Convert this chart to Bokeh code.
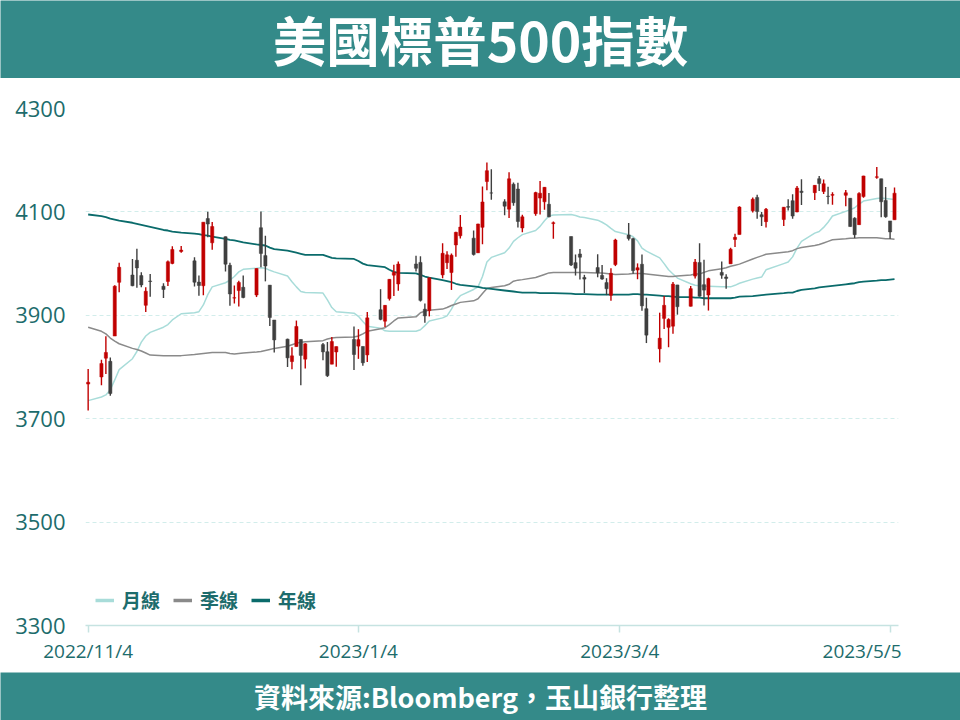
import pandas as pd
from bokeh.plotting import figure
from bokeh.models import ColumnDataSource, FixedTicker, Legend, LegendItem, Range1d
from bokeh.layouts import column
from bokeh.embed import file_html
from bokeh.resources import INLINE
from bokeh.core.properties import value

# ---------------- data ----------------
title_text = "美國標普500指數"
source_text = "資料來源:Bloomberg，玉山銀行整理"
series_names = ["月線", "季線", "年線"]

dates = [
    "2022-11-04", "2022-11-07", "2022-11-08", "2022-11-09", "2022-11-10", "2022-11-11", "2022-11-14", "2022-11-15",
    "2022-11-16", "2022-11-17", "2022-11-18", "2022-11-21", "2022-11-22", "2022-11-23", "2022-11-25", "2022-11-28",
    "2022-11-29", "2022-11-30",
    "2022-12-01", "2022-12-02", "2022-12-05", "2022-12-06", "2022-12-07", "2022-12-08", "2022-12-09", "2022-12-12",
    "2022-12-13", "2022-12-14", "2022-12-15", "2022-12-16", "2022-12-19", "2022-12-20", "2022-12-21", "2022-12-22",
    "2022-12-23", "2022-12-27", "2022-12-28", "2022-12-29", "2022-12-30",
    "2023-01-03", "2023-01-04", "2023-01-05", "2023-01-06", "2023-01-09", "2023-01-10", "2023-01-11", "2023-01-12",
    "2023-01-13", "2023-01-17", "2023-01-18", "2023-01-19", "2023-01-20", "2023-01-23", "2023-01-24", "2023-01-25",
    "2023-01-26", "2023-01-27", "2023-01-30", "2023-01-31",
    "2023-02-01", "2023-02-02", "2023-02-03", "2023-02-06", "2023-02-07", "2023-02-08", "2023-02-09", "2023-02-10",
    "2023-02-13", "2023-02-14", "2023-02-15", "2023-02-16", "2023-02-17", "2023-02-21", "2023-02-22", "2023-02-23",
    "2023-02-24", "2023-02-27", "2023-02-28",
    "2023-03-01", "2023-03-02", "2023-03-03", "2023-03-06", "2023-03-07", "2023-03-08", "2023-03-09", "2023-03-10",
    "2023-03-13", "2023-03-14", "2023-03-15", "2023-03-16", "2023-03-17", "2023-03-20", "2023-03-21", "2023-03-22",
    "2023-03-23", "2023-03-24", "2023-03-27", "2023-03-28", "2023-03-29", "2023-03-30", "2023-03-31",
    "2023-04-03", "2023-04-04", "2023-04-05", "2023-04-06", "2023-04-10", "2023-04-11", "2023-04-12", "2023-04-13",
    "2023-04-14", "2023-04-17", "2023-04-18", "2023-04-19", "2023-04-20", "2023-04-21", "2023-04-24", "2023-04-25",
    "2023-04-26", "2023-04-27", "2023-04-28",
    "2023-05-01", "2023-05-02", "2023-05-03", "2023-05-04", "2023-05-05",
]

opens = [
    3766.98, 3780.71, 3817.02, 3810.94, 3859.89, 3963.72, 3977.97, 4006.41, 3976.82, 3919.26, 3966.39, 3956.23,
    3965.51, 4000.30, 4023.34, 4005.36, 3964.19, 3957.18,
    4087.14, 4040.17, 4052.02, 3996.63, 3933.28, 3947.79, 3954.17, 3939.29, 4069.38, 4015.54, 3958.37, 3890.91,
    3853.79, 3810.47, 3839.49, 3853.26, 3815.11, 3843.34, 3829.56, 3805.45, 3829.06,
    3853.29, 3840.36, 3839.74, 3823.37, 3910.82, 3888.57, 3932.35, 3977.57, 3960.60, 3999.28, 4002.25, 3911.84,
    3909.04, 3978.14, 4001.74, 3982.71, 4036.08, 4053.72, 4049.27, 4020.85,
    4070.07, 4158.68, 4136.69, 4119.57, 4105.35, 4153.47, 4144.25, 4068.92, 4096.62, 4126.70, 4119.50, 4114.75,
    4077.39, 4052.35, 4001.83, 4018.60, 3973.24, 3992.36, 3977.19,
    3963.34, 3938.68, 3998.02, 4055.15, 4048.26, 3987.55, 3998.66, 3912.77, 3835.12, 3894.01, 3876.74, 3878.93,
    3958.69, 3917.47, 3975.89, 4002.04, 3959.21, 3939.21, 3982.93, 3974.13, 3999.53, 4046.74, 4056.18,
    4102.20, 4128.03, 4094.50, 4081.15, 4085.20, 4110.29, 4121.72, 4100.04, 4140.11, 4137.17, 4164.26, 4139.33,
    4130.48, 4132.14, 4132.07, 4126.43, 4087.78, 4075.29, 4129.63,
    4166.79, 4164.10, 4122.25, 4082.61, 4084.73,
]

highs = [
    3796.34, 3813.95, 3859.40, 3818.20, 3958.33, 4001.48, 4008.97, 4028.84, 3983.09, 3954.33, 3979.89, 3962.00,
    4005.88, 4033.78, 4034.02, 4012.27, 3976.77, 4080.11,
    4100.51, 4080.48, 4052.45, 4001.51, 3957.57, 3966.65, 3977.02, 3990.71, 4100.96, 4053.76, 3958.37, 3890.91,
    3854.86, 3838.24, 3889.82, 3853.26, 3845.80, 3846.65, 3848.32, 3858.19, 3839.85,
    3878.46, 3873.16, 3839.74, 3906.19, 3950.57, 3919.83, 3970.07, 3997.76, 4003.95, 4015.39, 4014.16, 3922.94,
    3972.96, 4039.31, 4023.92, 4019.55, 4061.57, 4094.21, 4063.85, 4077.16,
    4148.95, 4195.44, 4182.36, 4124.63, 4176.54, 4156.85, 4156.23, 4094.36, 4138.90, 4159.77, 4148.11, 4136.54,
    4081.51, 4052.35, 4017.37, 4028.30, 3978.25, 4018.05, 3997.50,
    3971.73, 3990.84, 4048.29, 4078.49, 4050.00, 4000.41, 4017.81, 3934.05, 3905.05, 3937.29, 3894.26, 3964.46,
    3958.91, 3956.62, 4009.08, 4039.49, 4007.66, 3972.74, 4003.83, 3979.20, 4030.59, 4057.85, 4110.75,
    4127.66, 4133.13, 4099.69, 4107.32, 4109.50, 4124.26, 4134.37, 4150.26, 4163.19, 4151.72, 4169.48, 4162.57,
    4148.57, 4138.02, 4142.41, 4126.43, 4089.67, 4138.24, 4170.06,
    4186.92, 4164.10, 4148.30, 4082.61, 4147.02,
]

lows = [
    3716.05, 3764.70, 3786.28, 3744.22, 3859.89, 3944.82, 3956.40, 3953.17, 3954.34, 3906.54, 3935.98, 3933.34,
    3956.88, 3998.66, 4020.76, 3955.77, 3937.65, 3938.58,
    4050.87, 4026.63, 3984.49, 3918.39, 3922.68, 3916.84, 3933.04, 3935.30, 3993.03, 3965.65, 3879.45, 3827.91,
    3800.04, 3795.62, 3839.49, 3764.49, 3797.01, 3813.22, 3780.78, 3805.45, 3800.34,
    3794.33, 3815.77, 3802.42, 3809.56, 3890.42, 3877.29, 3928.54, 3937.56, 3947.67, 3984.57, 3926.59, 3885.54,
    3897.86, 3971.64, 3989.79, 3949.06, 4013.29, 4048.70, 4015.55, 4020.44,
    4037.20, 4141.88, 4123.36, 4093.38, 4088.39, 4111.67, 4069.67, 4060.79, 4092.67, 4095.01, 4103.98, 4089.49,
    4047.95, 3995.19, 3976.90, 3969.19, 3943.08, 3973.55, 3968.98,
    3939.05, 3928.16, 3995.17, 4044.61, 3980.31, 3969.76, 3908.70, 3846.32, 3808.86, 3873.63, 3838.24, 3864.11,
    3901.27, 3916.89, 3971.19, 3936.17, 3919.05, 3909.16, 3970.47, 3951.53, 3999.53, 4032.10, 4056.18,
    4098.79, 4086.87, 4072.56, 4069.84, 4072.55, 4102.61, 4086.94, 4099.40, 4113.20, 4123.18, 4140.36, 4134.49,
    4114.57, 4113.86, 4111.11, 4071.38, 4049.35, 4075.29, 4127.18,
    4164.12, 4089.72, 4088.86, 4048.28, 4084.73,
]

closes = [
    3770.55, 3806.80, 3828.11, 3748.57, 3956.37, 3992.93, 3957.25, 3991.73, 3958.79, 3946.56, 3965.34, 3949.94,
    4003.58, 4027.26, 4026.12, 3963.94, 3957.63, 4080.11,
    4076.57, 4071.70, 3998.84, 3941.26, 3933.92, 3963.51, 3934.38, 3990.56, 4019.65, 3995.32, 3895.75, 3852.36,
    3817.66, 3821.62, 3878.44, 3822.39, 3844.82, 3829.25, 3783.22, 3849.28, 3839.50,
    3824.14, 3852.97, 3808.10, 3895.08, 3892.09, 3919.25, 3969.61, 3983.17, 3999.09, 3990.97, 3928.86, 3898.85,
    3972.61, 4019.81, 4016.95, 4016.22, 4060.43, 4070.56, 4017.77, 4076.60,
    4119.21, 4179.76, 4136.48, 4111.08, 4164.00, 4117.86, 4081.50, 4090.46, 4137.29, 4136.13, 4147.60, 4090.41,
    4079.09, 3997.34, 3991.05, 4012.32, 3970.04, 3982.24, 3970.15,
    3951.39, 3981.35, 4045.64, 4048.42, 3986.37, 3992.01, 3918.32, 3861.59, 3855.76, 3919.29, 3891.93, 3960.28,
    3916.64, 3951.57, 4002.87, 3936.97, 3948.72, 3970.99, 3977.53, 3971.27, 4027.81, 4050.83, 4109.31,
    4124.51, 4100.60, 4090.38, 4105.02, 4109.11, 4108.94, 4091.95, 4146.22, 4137.64, 4151.32, 4154.87, 4154.52,
    4129.79, 4133.52, 4137.04, 4071.63, 4055.99, 4135.35, 4169.48,
    4167.87, 4119.58, 4090.75, 4061.22, 4136.25,
]

ma_month = [
    3735, 3742, 3746, 3756, 3775, 3795, 3816, 3830, 3848, 3860, 3867, 3877, 3882, 3891, 3903, 3905, 3907, 3920,
    3940, 3955, 3963, 3968, 3975, 3984, 3989, 3991, 3992, 3991, 3987, 3984, 3976, 3965, 3955, 3946, 3944, 3943,
    3930, 3915, 3907,
    3904, 3898, 3888, 3879, 3875, 3870, 3869, 3869, 3869, 3869, 3872, 3880, 3889, 3895, 3899, 3912, 3928, 3938,
    3950, 3955,
    3975, 4003, 4012, 4021, 4030, 4043, 4050, 4056, 4064, 4072, 4083, 4092, 4094, 4095, 4093, 4090, 4089, 4084, 4080,
    4075, 4068, 4062, 4056, 4052, 4044, 4030, 4024, 4011, 4000, 3988, 3980, 3972, 3961, 3958, 3957, 3956, 3956,
    3955, 3955, 3955, 3958, 3962,
    3970, 3972, 3974, 3988, 4000, 4003, 4013, 4030, 4043, 4059, 4062, 4070, 4080, 4092, 4101, 4104, 4108, 4115, 4121,
    4126, 4127, 4126, 4125, 4124,
]

ma_quarter = [
    3877, 3869, 3864, 3856, 3850, 3845, 3836, 3834, 3831, 3827, 3823, 3822, 3822, 3822, 3822, 3824, 3825, 3826,
    3827, 3828, 3828, 3826, 3825, 3826, 3827, 3829, 3830, 3832, 3834, 3836, 3840, 3843, 3846, 3848, 3849, 3851,
    3854, 3856, 3857,
    3858, 3860, 3864, 3869, 3874, 3876, 3882, 3889, 3895, 3897, 3905, 3908, 3910, 3912, 3915, 3919, 3922, 3925,
    3928, 3932,
    3942, 3952, 3954, 3957, 3960, 3966, 3968, 3969, 3973, 3976, 3979, 3982, 3983, 3983, 3983, 3983, 3983, 3982, 3982,
    3981, 3980, 3979, 3980, 3981, 3981, 3981, 3980, 3977, 3976, 3975, 3975, 3976, 3978, 3980, 3980, 3983, 3986,
    3990, 3992, 3995, 3997, 3999,
    4009, 4012, 4015, 4018, 4022, 4023, 4025, 4029, 4031, 4035, 4037, 4040, 4043, 4046, 4048, 4049, 4049, 4050, 4050,
    4050, 4049, 4048, 4048, 4047,
]

ma_year = [
    4095, 4092, 4090, 4087, 4085, 4083, 4079, 4077, 4075, 4073, 4071, 4065, 4064, 4062, 4060, 4058, 4057, 4055,
    4054, 4052, 4048, 4046, 4045, 4043, 4041, 4037, 4036, 4035, 4031, 4028, 4025, 4023, 4021, 4019, 4017, 4017,
    4014, 4011, 4010,
    4009, 4005, 4000, 3997, 3994, 3993, 3988, 3984, 3982, 3981, 3978, 3975, 3973, 3968, 3966, 3964, 3961, 3959,
    3956, 3955,
    3953, 3952, 3951, 3948, 3947, 3946, 3945, 3944, 3944, 3943, 3943, 3943, 3943, 3942, 3941, 3941, 3941, 3940, 3940,
    3940, 3940, 3940, 3940, 3941, 3941, 3940, 3940, 3938, 3937, 3937, 3936, 3935, 3935, 3934, 3934, 3933, 3933,
    3933, 3933, 3933, 3934, 3936,
    3937, 3938, 3939, 3940, 3943, 3944, 3944, 3947, 3949, 3952, 3954, 3955, 3956, 3957, 3960, 3961, 3962, 3964, 3965,
    3967, 3968, 3968, 3969, 3970,
]

y_ticks = [3300, 3500, 3700, 3900, 4100, 4300]
x_tick_dates = ["2022-11-04", "2023-01-04", "2023-03-04", "2023-05-04"]
x_tick_labels = ["2022/11/4", "2023/1/4", "2023/3/4", "2023/5/5"]

# ---------------- style ----------------
W = 960
LEFT, RIGHT = 85, 62
TEAL = "#348A89"
TXT = "#1D6C6C"
UP = "#C00000"
DOWN = "#3F3F3F"
C_MONTH = "#A8DCD9"
C_QUARTER = "#8A8A8A"
C_YEAR = "#0A6B6B"
AXIS_C = "#C6E3E1"
CJK_NAME = "Noto Sans CJK TC"
DAY = 86400000.0
PX_PER_DAY = (W - LEFT - RIGHT) / 183.5
LAST_LABEL_SHIFT_PX = 28      # last date label sits right-aligned at the axis end


def ms(s):
    return pd.Timestamp(s).value / 1e6


def banner(h, text, size, yc):
    b = figure(width=W, height=h, x_range=Range1d(0, W), y_range=Range1d(0, h),
               toolbar_location=None, output_backend="svg", min_border=0, frame_align=False,
               x_axis_type=None, y_axis_type=None, outline_line_color=None,
               background_fill_color=TEAL, border_fill_color=TEAL)
    b.text(x=[W / 2], y=[yc], text=[text], text_align="center", text_baseline="middle",
           text_color="white", text_font=value(CJK_NAME), text_font_size=size, text_font_style="bold")
    return b


top = banner(78, title_text, "53.5px", 40)
bottom = banner(48, source_text, "27px", 24)

# ---------------- main chart ----------------
df = pd.DataFrame(dict(date=pd.to_datetime(dates), open=opens, high=highs, low=lows, close=closes,
                       m20=ma_month, m60=ma_quarter, m240=ma_year))
df["top"] = df[["open", "close"]].max(axis=1)
df["bot"] = df[["open", "close"]].min(axis=1)
up = ColumnDataSource(df[df.close >= df.open])
dn = ColumnDataSource(df[df.close < df.open])
src = ColumnDataSource(df)

x0 = ms(dates[0]) - 0.6 * DAY
x1 = x0 + 183.5 * DAY

p = figure(width=W, height=594, x_axis_type="datetime", x_range=Range1d(x0, x1),
           y_range=Range1d(3300, 4300), toolbar_location=None, output_backend="svg",
           min_border_left=LEFT, min_border_right=RIGHT, min_border_top=30, min_border_bottom=47,
           outline_line_color=None, background_fill_color="white", border_fill_color="white")

p.xgrid.visible = False
p.ygrid.ticker = FixedTicker(ticks=y_ticks)
p.ygrid.grid_line_color = "#D2EDEB"
p.ygrid.grid_line_dash = "4 3"
p.ygrid.grid_line_width = 1

p.yaxis.ticker = FixedTicker(ticks=y_ticks)
p.yaxis.axis_line_color = None
p.yaxis.major_tick_line_color = None
p.yaxis.minor_tick_line_color = None
p.yaxis.major_label_standoff = 14
p.yaxis.major_label_text_font = "Open Sans"
p.yaxis.major_label_text_font_size = "22px"
p.yaxis.major_label_text_color = TXT

# tick marks at the dates (minor ticks); label anchors (major ticks, no mark)
tick_ms = [ms(d) for d in x_tick_dates]
label_ms = list(tick_ms)
label_ms[-1] = tick_ms[-1] - LAST_LABEL_SHIFT_PX / PX_PER_DAY * DAY
p.xaxis.ticker = FixedTicker(ticks=label_ms, minor_ticks=tick_ms)
p.xaxis.major_label_overrides = {t: lab for t, lab in zip(label_ms, x_tick_labels)}
p.xaxis.axis_line_color = AXIS_C
p.xaxis.axis_line_width = 1.5
p.xaxis.major_tick_line_color = None
p.xaxis.major_tick_out = 7
p.xaxis.major_tick_in = 0
p.xaxis.minor_tick_line_color = AXIS_C
p.xaxis.minor_tick_line_width = 1.5
p.xaxis.minor_tick_out = 7
p.xaxis.minor_tick_in = 0
p.xaxis.major_label_standoff = 5
p.xaxis.major_label_text_font = "Open Sans"
p.xaxis.major_label_text_font_size = "19px"
p.xaxis.major_label_text_color = TXT

# moving averages
p.line("date", "m20", source=src, line_color=C_MONTH, line_width=1.5)
p.line("date", "m60", source=src, line_color=C_QUARTER, line_width=1.5)
p.line("date", "m240", source=src, line_color=C_YEAR, line_width=1.8)

# candles
for s, c in ((up, UP), (dn, DOWN)):
    p.segment(x0="date", y0="low", x1="date", y1="high", source=s, line_color=c, line_width=1.4)
    p.vbar(x="date", width=0.72 * DAY, top="top", bottom="bot", source=s,
           fill_color=c, line_color=c, line_width=0.5)

# legend (thicker swatches through hidden copies of the lines)
swatches = []
for col, c in (("m20", C_MONTH), ("m60", C_QUARTER), ("m240", C_YEAR)):
    swatches.append(p.line("date", col, source=src, line_color=c, line_width=3.5, visible=False))
legend = Legend(items=[LegendItem(label=value(n), renderers=[r]) for n, r in zip(series_names, swatches)],
                orientation="horizontal", location=(10, 12), glyph_width=19, glyph_height=20,
                label_standoff=8, spacing=13, padding=0, margin=0, border_line_color=None,
                background_fill_alpha=0, inactive_fill_alpha=0, label_text_font=CJK_NAME,
                label_text_font_size="19px", label_text_font_style="bold", label_text_color=TXT,
                label_height=20)
p.add_layout(legend)

layout = column(top, p, bottom, spacing=0)
open("out.html", "w").write(file_html(layout, INLINE))
